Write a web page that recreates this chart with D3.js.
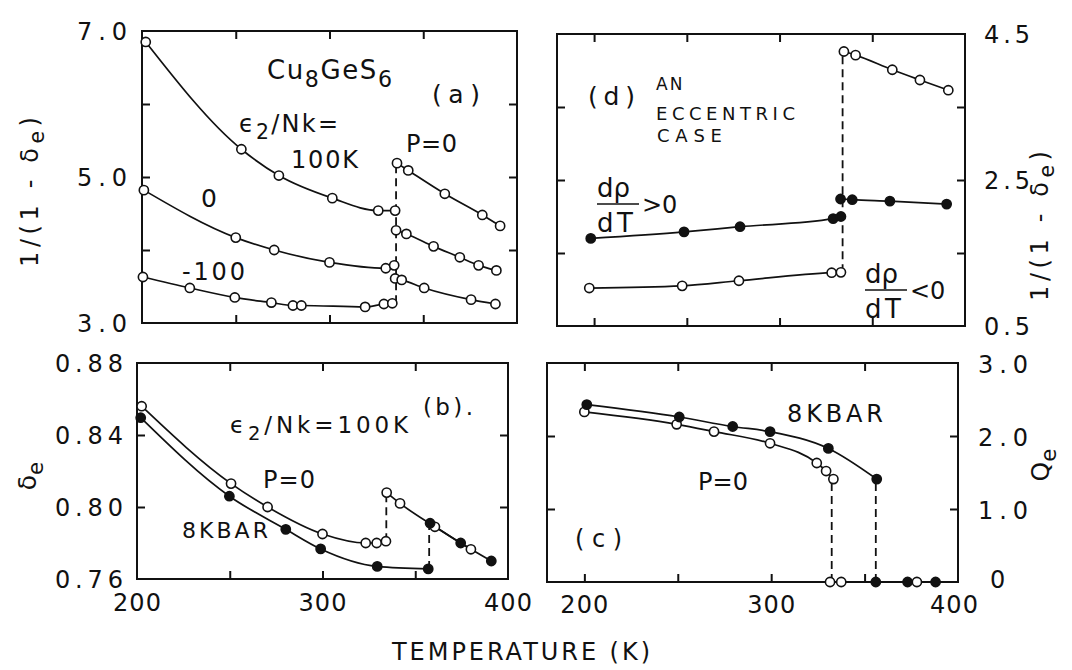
<!DOCTYPE html>
<html>
<head>
<meta charset="utf-8">
<script src="https://cdn.jsdelivr.net/npm/d3@7"></script>
<style>
  body { margin: 0; background: #fff; }
  svg text { font-family: "DejaVu Sans", sans-serif; font-weight: normal; fill: #111; }
</style>
</head>
<body>
<div id="viz"></div>
<script>
// ---- data: [T (K), value] ----
// (a) 1/(1-de), P=0, e2/Nk = 100K, 0, -100
const a100Low = [[202, 6.85], [253, 5.38], [273, 5.02], [301.5, 4.71], [326, 4.54], [335, 4.54]];
const a100High = [[336, 5.19], [342, 5.09], [361.5, 4.77], [381.5, 4.48], [391, 4.33]];
const a0Low = [[201, 4.82], [250, 4.17], [270.5, 4.00], [300, 3.83], [330, 3.75], [334.5, 3.79]];
const a0High = [[335.5, 4.27], [341, 4.22], [355.5, 4.05], [369.5, 3.90], [379.5, 3.79], [389, 3.72]];
const aM100Low = [[200.5, 3.63], [225.5, 3.48], [249.5, 3.35], [269, 3.28], [280.5, 3.24], [285, 3.24], [319, 3.22], [329, 3.26], [333.5, 3.27]];
const aM100High = [[335, 3.61], [338.5, 3.59], [350.5, 3.48], [375.5, 3.32], [388.5, 3.26]];
const aDash = [[335.5, 3.27, 5.19]];

// (b) de, e2/Nk = 100K, P=0 (open) and 8 kbar (filled)
const bP0Low = [[202.5, 0.856], [250.7, 0.813], [270.4, 0.800], [300, 0.785], [323.3, 0.780], [329.2, 0.780], [334.2, 0.781]];
const bP0High = [[334.6, 0.808], [341.8, 0.802], [360.6, 0.789], [380, 0.7765]];
const b8Low = [[202, 0.8496], [249.8, 0.806], [280.2, 0.7876], [299, 0.7767], [329.5, 0.767], [357, 0.7656]];
const b8High = [[358, 0.791], [374.5, 0.780], [391, 0.770]];
const bDash = [[334.4, 0.781, 0.808], [357.5, 0.7656, 0.791]];

// (c) Qe, P=0 (open) and 8 kbar (filled)
const cP0 = [[200, 2.33], [249.4, 2.16], [269.4, 2.06], [299.4, 1.90], [324.4, 1.63], [329.4, 1.52], [333.3, 1.41]];
const cP0Zero = [[331.5, 0], [337.5, 0], [378, 0]];
const c8 = [[201.3, 2.43], [250.8, 2.26], [279.4, 2.13], [299.4, 2.06], [330.6, 1.83], [356.5, 1.41]];
const c8Zero = [[356, 0], [373, 0], [388, 0]];
const cZeroLine = [[331.5, 0], [388, 0]];
const cDash = [[332.4, 0, 1.41], [356, 0, 1.41]];

// (d) an eccentric case, 1/(1-de)
const dUpper = [[334.7, 4.26], [341, 4.21], [360.8, 4.01], [375.7, 3.87], [391, 3.73]];
const dFillLow = [[198.2, 1.70], [248.5, 1.79], [278.7, 1.86], [328.9, 1.97], [333.1, 2.00]];
const dFillHigh = [[332.9, 2.24], [339.2, 2.23], [359.5, 2.21], [390.1, 2.17]];
const dOpenLow = [[197.4, 1.02], [247.5, 1.05], [278.1, 1.12], [328.1, 1.23], [333.1, 1.235]];
const dDash = [[334, 1.235, 4.26]];

// ---- ticks and tick labels ----
const xTicksAB = [250, 300, 350];
const xTicksCD = [200, 250, 300, 350];
const xLabels = [200, 300, 400];
const aYTicks = [4, 5, 6];
const aYLabels = [[7, "7.0"], [5, "5.0"], [3, "3.0"]];
const bYTicks = [0.80, 0.84];
const bYLabels = [[0.88, "0.88"], [0.84, "0.84"], [0.80, "0.80"], [0.76, "0.76"]];
const cYTicks = [1, 2];
const cYLabels = [[3, "3.0"], [2, "2.0"], [1, "1.0"], [0, "0"]];
const dYTicks = [1.5, 2.5, 3.5];
const dYLabels = [[4.5, "4.5"], [2.5, "2.5"], [0.5, "0.5"]];

const W = 1072, H = 670;
const ink = '#111';

const svg = d3.select('#viz').append('svg')
  .attr('width', W).attr('height', H)
  .attr('viewBox', `0 0 ${W} ${H}`);

// panel scales (the scan is a little skewed, so each panel has its own)
const pa = { x: d3.scaleLinear().domain([200, 400]).range([142, 517]), y: d3.scaleLinear().domain([3, 7]).range([323, 31]) };
const pb = { x: d3.scaleLinear().domain([200, 400]).range([137, 508]), y: d3.scaleLinear().domain([0.76, 0.88]).range([579, 363]) };
const pc = { x: d3.scaleLinear().domain([180, 400]).range([547, 958]), y: d3.scaleLinear().domain([0, 3]).range([582, 363]) };
const pd = { x: d3.scaleLinear().domain([180, 400]).range([557, 965]), y: d3.scaleLinear().domain([0.5, 4.5]).range([326, 34]) };

const lineLayer = svg.append('g');
const markLayer = svg.append('g');
const textLayer = svg.append('g');

function frame(p, xt, yt) {
  const [x0, x1] = p.x.range();
  const [y0, y1] = p.y.range();
  lineLayer.append('rect')
    .attr('x', x0).attr('y', y1)
    .attr('width', x1 - x0).attr('height', y0 - y1)
    .attr('fill', 'none').attr('stroke', ink).attr('stroke-width', 2);
  const mk = (axis, tx, ty) => lineLayer.append('g')
    .attr('transform', `translate(${tx},${ty})`)
    .call(axis.tickFormat('').tickSizeOuter(0))
    .call(g => g.select('.domain').remove())
    .selectAll('line').attr('stroke', ink).attr('stroke-width', 2);
  mk(d3.axisBottom(p.x).tickValues(xt).tickSizeInner(-8), 0, y0);
  mk(d3.axisTop(p.x).tickValues(xt).tickSizeInner(-8), 0, y1);
  mk(d3.axisLeft(p.y).tickValues(yt).tickSizeInner(-8), x0, 0);
  mk(d3.axisRight(p.y).tickValues(yt).tickSizeInner(-8), x1, 0);
}

function curve(p, pts) {
  lineLayer.append('path').datum(pts)
    .attr('d', d3.line().x(d => p.x(d[0])).y(d => p.y(d[1])).curve(d3.curveMonotoneX))
    .attr('fill', 'none').attr('stroke', ink).attr('stroke-width', 1.7);
}

function marks(p, pts, filled) {
  markLayer.selectAll(null).data(pts).enter().append('circle')
    .attr('cx', d => p.x(d[0])).attr('cy', d => p.y(d[1]))
    .attr('r', 4.6)
    .attr('fill', filled ? ink : '#fff')
    .attr('stroke', ink).attr('stroke-width', 1.6);
}

function dashes(p, list) {
  lineLayer.selectAll(null).data(list).enter().append('line')
    .attr('x1', d => p.x(d[0])).attr('x2', d => p.x(d[0]))
    .attr('y1', d => p.y(d[1])).attr('y2', d => p.y(d[2]))
    .attr('stroke', ink).attr('stroke-width', 1.8)
    .attr('stroke-dasharray', '8,5');
}

// text helper: parts = [str, sub?] ; width = target width in px (spacing stretched to fit)
function label(x, y, parts, size, width, anchor) {
  const t = textLayer.append('text')
    .attr('x', x).attr('y', y)
    .attr('font-size', size)
    .attr('text-anchor', anchor || 'start');
  let shifted = false;
  (typeof parts === 'string' ? [[parts]] : parts).forEach(([s, sub]) => {
    const ts = t.append('tspan').text(s);
    if (sub && !shifted) { ts.attr('dy', size * 0.3).attr('font-size', size * 0.85); shifted = true; }
    else if (sub) { ts.attr('font-size', size * 0.85); }
    else if (shifted) { ts.attr('dy', -size * 0.3); shifted = false; }
  });
  if (width) {
    const w = t.node().getComputedTextLength();
    const n = t.text().length;
    const ls = Math.max(0, (width - w) / Math.max(1, n - 1));
    t.attr('letter-spacing', ls);
    if (anchor === 'end') t.attr('dx', ls);
    if (anchor === 'middle') t.attr('dx', ls / 2);
  }
  return t;
}

function rotLabel(cx, cy, parts, size, width) {
  const t = label(0, 0, parts, size, width, 'middle');
  t.attr('dominant-baseline', 'central')
    .attr('transform', `translate(${cx},${cy}) rotate(-90)`);
}

// ---- panels ----
frame(pa, xTicksAB, aYTicks);
frame(pb, xTicksAB, bYTicks);
frame(pc, xTicksCD, cYTicks);
frame(pd, xTicksCD, dYTicks);

// (a)
[a100Low, a100High, a0Low, a0High, aM100Low, aM100High].forEach(s => { curve(pa, s); marks(pa, s, false); });
dashes(pa, aDash);

// (b)
[bP0Low, bP0High].forEach(s => { curve(pb, s); marks(pb, s, false); });
[b8Low, b8High].forEach(s => { curve(pb, s); marks(pb, s, true); });
dashes(pb, bDash);

// (c)
curve(pc, cP0); curve(pc, c8); curve(pc, cZeroLine);
marks(pc, cP0, false); marks(pc, cP0Zero, false);
marks(pc, c8, true); marks(pc, c8Zero, true);
dashes(pc, cDash);

// (d)
curve(pd, dUpper); marks(pd, dUpper, false);
curve(pd, dFillLow); marks(pd, dFillLow, true);
curve(pd, dFillHigh); marks(pd, dFillHigh, true);
curve(pd, dOpenLow); marks(pd, dOpenLow, false);
dashes(pd, dDash);

// ---- tick labels ----
const numSize = 24;
aYLabels.forEach(([v, s]) => label(127, pa.y(v) + 9, s, numSize, 50, 'end'));
bYLabels.forEach(([v, s]) => label(123, pb.y(v) + 9, s, numSize, 68, 'end'));
cYLabels.forEach(([v, s]) => s.length > 1
  ? label(978, pc.y(v) + 10, s, numSize, 50)
  : label(990, pc.y(v) + 6, s, numSize, 0));
dYLabels.forEach(([v, s]) => label(984, pd.y(v) + 9, s, numSize, 46));
xLabels.forEach(v => label(pb.x(v), 611, String(v), numSize, 48, 'middle'));
xLabels.forEach(v => label(pc.x(v) - (v === 400 ? 4 : 0), 613, String(v), numSize, 48, 'middle'));

label(521, 660, 'TEMPERATURE (K)', 24, 258, 'middle');

// axis titles
rotLabel(30, 192, [['1/(1 - δ'], ['e', true], [')']], 24, 150);
rotLabel(1040, 226, [['1/(1 - δ'], ['e', true], [')']], 24, 150);
rotLabel(27, 476, [['δ'], ['e', true]], 25, 0);
rotLabel(1040, 465, [['Q'], ['e', true]], 25, 0);

// ---- annotations ----
// (a)
label(267, 79, [['Cu'], ['8', true], ['Ge'], ['S'], ['6', true]], 26, 125);
label(432, 103, '(a)', 25, 48);
label(239, 132, [['ϵ'], ['2', true], ['/Nk=']], 24, 99);
label(291, 168, '100K', 24, 67);
label(406, 152, 'P=0', 24, 51);
label(201, 207, '0', 25, 0);
label(182, 280, '-100', 24, 63);

// (b)
label(230, 433, [['ϵ'], ['2', true], ['/Nk=100K']], 23, 178);
label(423, 415, '(b).', 23, 50);
label(263, 488, 'P=0', 24, 52);
label(182, 538, '8KBAR', 22, 86);

// (c)
label(787, 422, '8KBAR', 24, 96);
label(698, 490, 'P=0', 24, 50);
label(575, 547, '(c)', 24, 47);

// (d)
label(588, 105, '(d)', 25, 47);
label(656, 90, 'AN', 17, 0).attr('letter-spacing', 2);
label(656, 120, 'ECCENTRIC', 18, 139);
label(657, 142, 'CASE', 18, 65);

function fraction(x, y, sign) {
  label(x, y, 'dρ', 26, 0);
  textLayer.append('line')
    .attr('x1', x).attr('x2', x + 42)
    .attr('y1', y + 7).attr('y2', y + 7)
    .attr('stroke', ink).attr('stroke-width', 1.6);
  label(x, y + 35, 'dT', 26, 36);
  label(x + 45, y + 16, sign + '0', 24, 35);
}
fraction(597, 197, '>');
fraction(865, 283, '<');
</script>
</body>
</html>
